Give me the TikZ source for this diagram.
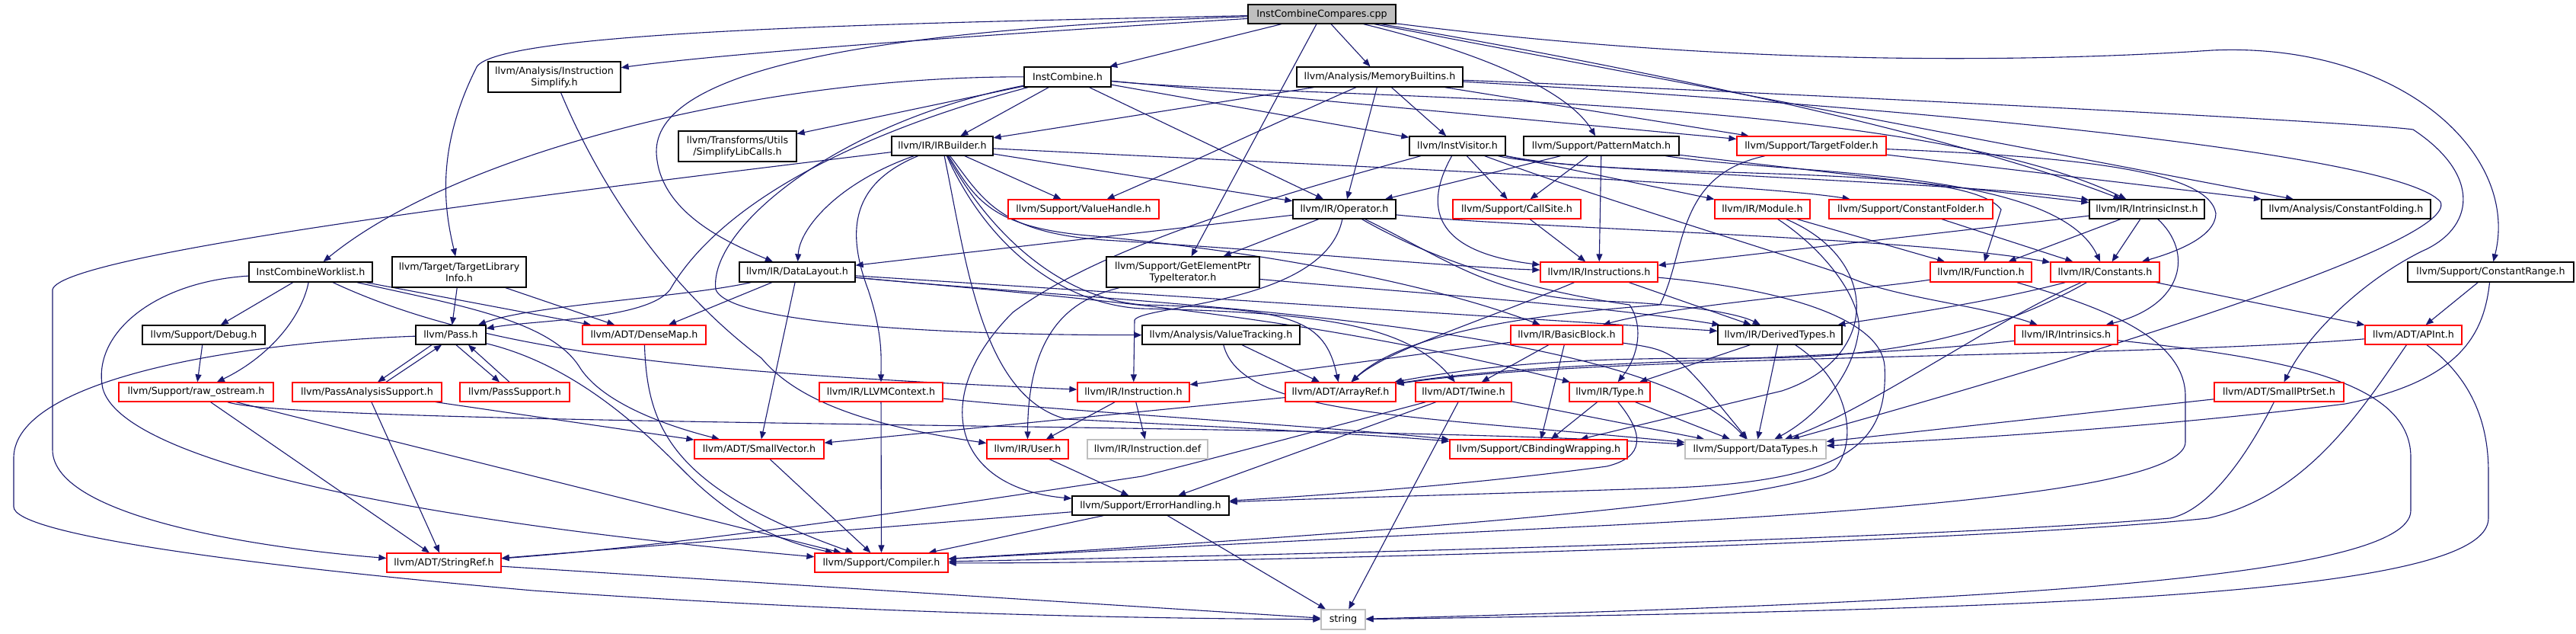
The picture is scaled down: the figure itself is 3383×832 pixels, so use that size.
\documentclass[tikz,border=0pt]{standalone}
\usepackage{fontspec}
\setmainfont{DejaVu Sans}
\usetikzlibrary{arrows.meta}
\definecolor{eblue}{RGB}{25,25,112}
\definecolor{nred}{RGB}{255,0,0}
\definecolor{ngray}{RGB}{191,191,191}
\newcommand\nodefont{\fontsize{12.7}{15}\selectfont}
\pgfdeclarelayer{bg}
\pgfsetlayers{bg,main}
\begin{document}
\begin{tikzpicture}[x=1pt,y=-1pt,
  nb/.style={draw=black,line width=1.3pt,rectangle,inner sep=0pt,font=\nodefont,align=center,fill=white},
  nr/.style={nb,draw=nred},
  ng/.style={nb,draw=ngray},
  mw/.style={minimum width=#1pt},
  mh/.style={minimum height=#1pt},
  ed/.style={draw=eblue,line width=1.1pt,-{Triangle[length=10pt,width=8pt]}}]
\useasboundingbox (0,0) rectangle (3383,832);
% ---------------- nodes ----------------
\node[nb,fill=ngray,mw=194,mh=25] (root) at (1736,18.5) {InstCombineCompares.cpp};
\node[nb,mw=114,mh=26] (IC) at (1402,101) {InstCombine.h};
\node[nb,mw=174,mh=40] (IS) at (728,101) {llvm/Analysis/Instruction\\Simplify.h};
\node[nb,mw=218,mh=26] (MB) at (1812,101) {llvm/Analysis/MemoryBuiltins.h};
\node[nb,mw=176,mh=40] (TLI) at (603,357) {llvm/Target/TargetLibrary\\Info.h};
\node[nb,mw=162,mh=26] (ICW) at (408,357) {InstCombineWorklist.h};
\node[nb,mw=155,mh=40] (SLC) at (968.5,192) {llvm/Transforms/Utils\\/SimplifyLibCalls.h};
\node[nb,mw=133,mh=25] (IRB) at (1237.5,191.5) {llvm/IR/IRBuilder.h};
\node[nb,mw=126,mh=25] (IV) at (1914,191.5) {llvm/InstVisitor.h};
\node[nb,mw=204,mh=25] (PM) at (2103,191.5) {llvm/Support/PatternMatch.h};
\node[nr,mw=196,mh=25] (TF) at (2379,191.5) {llvm/Support/TargetFolder.h};
\node[nr,mw=198,mh=25] (VH) at (1423,274.5) {llvm/Support/ValueHandle.h};
\node[nb,mw=135,mh=25] (OP) at (1765.5,274.5) {llvm/IR/Operator.h};
\node[nr,mw=168,mh=25] (CS) at (1992,274.5) {llvm/Support/CallSite.h};
\node[nr,mw=125,mh=25] (MOD) at (2314.5,274.5) {llvm/IR/Module.h};
\node[nr,mw=215,mh=25] (CF) at (2509.5,274.5) {llvm/Support/ConstantFolder.h};
\node[nb,mw=151,mh=25] (II) at (2819.5,274.5) {llvm/IR/IntrinsicInst.h};
\node[nb,mw=222,mh=25] (CFo) at (3081,274.5) {llvm/Analysis/ConstantFolding.h};
\node[nb,mw=152,mh=26] (DL) at (1047,357) {llvm/IR/DataLayout.h};
\node[nb,mw=201,mh=40] (GEP) at (1553.5,357) {llvm/Support/GetElementPtr\\TypeIterator.h};
\node[nr,mw=154,mh=26] (INS) at (2100,357) {llvm/IR/Instructions.h};
\node[nr,mw=133,mh=26] (FN) at (2601.5,357) {llvm/IR/Function.h};
\node[nr,mw=143,mh=26] (CON) at (2764.5,357) {llvm/IR/Constants.h};
\node[nb,mw=218,mh=26] (CR) at (3271,357) {llvm/Support/ConstantRange.h};
\node[nb,mw=161,mh=25] (DBG) at (267.5,439.5) {llvm/Support/Debug.h};
\node[nb,mw=92,mh=25] (PASS) at (592,439.5) {llvm/Pass.h};
\node[nr,mw=162,mh=25] (DM) at (846,439.5) {llvm/ADT/DenseMap.h};
\node[nb,mw=207,mh=25] (VT) at (1603.5,439.5) {llvm/Analysis/ValueTracking.h};
\node[nr,mw=147,mh=25] (BB) at (2057.5,439.5) {llvm/IR/BasicBlock.h};
\node[nb,mw=163,mh=25] (DT) at (2337.5,439.5) {llvm/IR/DerivedTypes.h};
\node[nr,mw=135,mh=25] (INTR) at (2713.5,439.5) {llvm/IR/Intrinsics.h};
\node[nr,mw=127,mh=25] (APInt) at (3169.5,439.5) {llvm/ADT/APInt.h};
\node[nr,mw=203,mh=25] (RO) at (257.5,514.5) {llvm/Support/raw\_ostream.h};
\node[nr,mw=196,mh=25] (PAS) at (482,514.5) {llvm/PassAnalysisSupport.h};
\node[nr,mw=144,mh=25] (PS) at (676,514.5) {llvm/PassSupport.h};
\node[nr,mw=162,mh=25] (CTX) at (1157,514.5) {llvm/IR/LLVMContext.h};
\node[nr,mw=147,mh=25] (INST) at (1488.5,514.5) {llvm/IR/Instruction.h};
\node[nr,mw=145,mh=25] (AR) at (1760.5,514.5) {llvm/ADT/ArrayRef.h};
\node[nr,mw=126,mh=25] (TW) at (1922,514.5) {llvm/ADT/Twine.h};
\node[nr,mw=106,mh=25] (TY) at (2114,514.5) {llvm/IR/Type.h};
\node[nr,mw=170,mh=25] (SPS) at (2993,514.5) {llvm/ADT/SmallPtrSet.h};
\node[nr,mw=170,mh=25] (SV) at (997,589.5) {llvm/ADT/SmallVector.h};
\node[nr,mw=107,mh=25] (USR) at (1349.5,589.5) {llvm/IR/User.h};
\node[ng,mw=158,mh=25] (IDEF) at (1507,589.5) {llvm/IR/Instruction.def};
\node[nr,mw=233,mh=25] (CBW) at (2020.5,589.5) {llvm/Support/CBindingWrapping.h};
\node[ng,mw=185,mh=25] (DTY) at (2305.5,589.5) {llvm/Support/DataTypes.h};
\node[nb,mw=206,mh=25] (EH) at (1511,663.5) {llvm/Support/ErrorHandling.h};
\node[nr,mw=175,mh=25] (CMP) at (1157.5,738.5) {llvm/Support/Compiler.h};
\node[nr,mw=150,mh=25] (SR) at (583,738.5) {llvm/ADT/StringRef.h};
\node[ng,mw=58,mh=26] (STR) at (1764,813) {string};
% ---------------- edges ----------------
\begin{pgfonlayer}{bg}
\fill[white] (0,0) rectangle (3383,832);
% root
\draw[ed] (root) -- (IC);
\draw[ed] (root) .. controls (1300,45) and (950,70) .. (IS);
\draw[ed] (root) .. controls (1200,30) and (640,40) .. (625,90) .. controls (570,200) and (585,280) .. (TLI);
\draw[ed] (root) -- (MB);
\draw[ed] (root) .. controls (1950,70) and (2060,120) .. (PM);
\draw[ed] (root) -- (GEP);
\draw[ed] (root) .. controls (1100,40) and (860,100) .. (862,200) .. controls (865,280) and (960,320) .. (DL);
\draw[ed] (root) .. controls (2100,80) and (2550,170) .. (II);
\draw[ed] (root) -- (CFo);
\draw[ed] (root) .. controls (2300,90) and (2700,80) .. (2905,66) .. controls (3150,55) and (3310,200) .. (CR);
% InstCombine.h
\draw[ed] (IC) .. controls (1000,100) and (600,200) .. (ICW);
\draw[ed] (IC) -- (SLC);
\draw[ed] (IC) -- (IRB);
\draw[ed] (IC) .. controls (1100,160) and (930,300) .. (940,380) .. controls (960,430) and (1300,440) .. (VT);
\draw[ed] (IC) .. controls (1700,130) and (2500,120) .. (II);
\draw[ed] (IC) -- (OP);
\draw[ed] (IC) -- (IV);
\draw[ed] (IC) .. controls (1140,170) and (950,260) .. (880,380) .. controls (850,420) and (700,420) .. (PASS);
\draw[ed] (IC) -- (TF);
% InstructionSimplify
\draw[ed] (IS) .. controls (790,250) and (880,380) .. (1000,470) .. controls (1050,530) and (1150,560) .. (USR);
% MemoryBuiltins
\draw[ed] (MB) -- (IV);
\draw[ed] (MB) -- (OP);
\draw[ed] (MB) -- (IRB);
\draw[ed] (MB) .. controls (1700,150) and (1550,220) .. (VH);
\draw[ed] (MB) -- (TF);
\draw[ed] (MB) .. controls (2300,120) and (3100,160) .. (3169,170) .. controls (3260,230) and (3250,300) .. (3180,330) .. controls (3100,370) and (3030,440) .. (SPS);
\draw[ed] (MB) .. controls (2500,140) and (3150,200) .. (3205,265) .. controls (3230,320) and (2700,480) .. (DTY);
% TargetLibraryInfo
\draw[ed] (TLI) -- (PASS);
\draw[ed] (TLI) -- (DM);
% InstCombineWorklist
\draw[ed] (ICW) -- (DBG);
\draw[ed] (ICW) .. controls (395,420) and (350,470) .. (RO);
\draw[ed] (ICW) .. controls (200,370) and (120,440) .. (135,510) .. controls (160,600) and (500,680) .. (CMP);
\draw[ed] (ICW) -- (DM);
\draw[ed] (ICW) .. controls (600,400) and (720,420) .. (760,480) .. controls (790,530) and (880,560) .. (SV);
\draw[ed] (ICW) .. controls (650,470) and (950,490) .. (INST);
% IRBuilder
\draw[ed] (IRB) -- (VH);
\draw[ed] (IRB) .. controls (1100,240) and (1050,300) .. (DL);
\draw[ed] (IRB) -- (OP);
\draw[ed] (IRB) .. controls (1700,215) and (2300,240) .. (CF);
\draw[ed] (IRB) .. controls (800,245) and (80,330) .. (69,380) -- (69,590) .. controls (69,680) and (350,720) .. (SR);
\draw[ed] (IRB) .. controls (1120,240) and (1110,300) .. (1140,380) .. controls (1160,440) and (1157,470) .. (CTX);
\draw[ed] (IRB) .. controls (1290,290) and (1380,390) .. (1500,400) .. controls (1700,405) and (1740,420) .. (AR);
\draw[ed] (IRB) .. controls (1300,330) and (1400,400) .. (1500,405) .. controls (1750,410) and (1850,430) .. (TW);
\draw[ed] (IRB) .. controls (1280,260) and (1300,300) .. (1440,310) .. controls (1700,335) and (1900,380) .. (BB);
\draw[ed] (IRB) .. controls (1270,350) and (1290,520) .. (1400,550) .. controls (1600,560) and (1800,570) .. (CBW);
\draw[ed] (IRB) .. controls (1290,260) and (1310,305) .. (1450,315) .. controls (1700,330) and (1900,350) .. (INS);
% TargetFolder
\draw[ed] (TF) .. controls (2200,230) and (2215,330) .. (2180,400) .. controls (2050,410) and (1850,430) .. (AR);
\draw[ed] (TF) -- (CFo);
\draw[ed] (TF) .. controls (2700,205) and (2900,220) .. (2910,280) .. controls (2910,310) and (2860,330) .. (CON);
% InstVisitor
\draw[ed] (IV) -- (CS);
\draw[ed] (IV) .. controls (1870,270) and (1880,330) .. (INS);
\draw[ed] (IV) -- (MOD);
\draw[ed] (IV) .. controls (2050,225) and (2600,240) .. (II);
\draw[ed] (IV) .. controls (2150,240) and (2580,210) .. (2628,275) -- (FN);
\draw[ed] (IV) .. controls (2100,260) and (2300,320) .. (2420,360) .. controls (2480,390) and (2600,400) .. (INTR);
\draw[ed] (IV) .. controls (1700,250) and (1450,320) .. (1330,410) .. controls (1220,520) and (1250,640) .. (EH);
% PatternMatch
\draw[ed] (PM) -- (OP);
\draw[ed] (PM) -- (CS);
\draw[ed] (PM) -- (INS);
\draw[ed] (PM) -- (II);
\draw[ed] (PM) .. controls (2350,230) and (2700,220) .. (CON);
% Operator
\draw[ed] (OP) .. controls (2000,300) and (2500,310) .. (CON);
\draw[ed] (OP) -- (DL);
\draw[ed] (OP) -- (GEP);
\draw[ed] (OP) .. controls (1900,340) and (1960,390) .. (2100,395) .. controls (2200,398) and (2280,410) .. (DT);
\draw[ed] (OP) .. controls (1740,400) and (1500,400) .. (1490,420) -- (INST);
\draw[ed] (OP) .. controls (1880,340) and (2000,380) .. (2140,400) .. controls (2160,430) and (2150,470) .. (TY);
% CallSite, Module, ConstantFolder, IntrinsicInst
\draw[ed] (CS) -- (INS);
\draw[ed] (MOD) -- (FN);
\draw[ed] (MOD) .. controls (2400,330) and (2450,400) .. (2440,440) .. controls (2430,500) and (2380,550) .. (DTY);
\draw[ed] (MOD) .. controls (2470,340) and (2470,470) .. (2340,513) -- (CBW);
\draw[ed] (CF) -- (CON);
\draw[ed] (II) -- (FN);
\draw[ed] (II) -- (CON);
\draw[ed] (II) -- (INS);
\draw[ed] (II) .. controls (2880,330) and (2870,400) .. (INTR);
% DataLayout
\draw[ed] (DL) .. controls (900,390) and (700,400) .. (PASS);
\draw[ed] (DL) -- (DM);
\draw[ed] (DL) -- (SV);
\draw[ed] (DL) -- (DT);
\draw[ed] (DL) .. controls (1400,390) and (1700,410) .. (TY);
\draw[ed] (DL) .. controls (1500,400) and (2150,420) .. (DTY);
% GetElementPtrTypeIterator
\draw[ed] (GEP) .. controls (1800,380) and (2100,400) .. (DT);
\draw[ed] (GEP) .. controls (1420,390) and (1350,420) .. (USR);
% Instructions
\draw[ed] (INS) .. controls (1950,420) and (1820,460) .. (AR);
\draw[ed] (INS) -- (DT);
\draw[ed] (INS) .. controls (2350,380) and (2470,420) .. (2475,480) .. controls (2480,580) and (2430,630) .. (2200,640) .. controls (1900,650) and (1700,655) .. (EH);
% Function
\draw[ed] (FN) .. controls (2450,380) and (2200,400) .. (BB);
\draw[ed] (FN) .. controls (2750,400) and (2870,440) .. (2870,520) -- (2870,580) .. controls (2870,640) and (2500,670) .. (2100,690) .. controls (1700,710) and (1400,725) .. (CMP);
% Constants
\draw[ed] (CON) -- (APInt);
\draw[ed] (CON) .. controls (2600,450) and (2450,470) .. (2300,470) .. controls (2150,470) and (2000,470) .. (AR);
\draw[ed] (CON) .. controls (2600,400) and (2450,420) .. (DT);
\draw[ed] (CON) .. controls (2620,420) and (2450,540) .. (DTY);
% ConstantRange
\draw[ed] (CR) -- (APInt);
\draw[ed] (CR) .. controls (3262,440) and (3230,500) .. (3080,530) .. controls (2800,565) and (2500,580) .. (DTY);
% Debug, Pass family
\draw[ed] (DBG) -- (RO);
\draw[ed] ([xshift=-25pt]PASS.south) -- ([xshift=14pt]PAS.north);
\draw[ed] ([xshift=25pt]PAS.north) -- ([xshift=-12pt]PASS.south);
\draw[ed] ([xshift=7pt]PASS.south) -- ([xshift=-20pt]PS.north);
\draw[ed] ([xshift=-7pt]PS.north) -- ([xshift=23pt]PASS.south);
\draw[ed] (PASS) .. controls (300,450) and (20,500) .. (18,600) -- (18,665) .. controls (18,700) and (300,740) .. (700,775) .. controls (1200,810) and (1600,812) .. (STR);
\draw[ed] (PASS) .. controls (760,480) and (850,570) .. (900,620) .. controls (960,680) and (1020,710) .. (CMP);
\draw[ed] (PAS) -- (SR);
\draw[ed] (PAS) -- (SV);
% raw_ostream
\draw[ed] (RO) -- (SR);
\draw[ed] (RO) -- (CMP);
\draw[ed] (RO) .. controls (400,560) and (1800,555) .. (DTY);
% DenseMap
\draw[ed] (DM) .. controls (850,560) and (880,640) .. (CMP);
% ValueTracking
\draw[ed] (VT) -- (AR);
\draw[ed] (VT) .. controls (1630,545) and (1850,545) .. (DTY);
% BasicBlock
\draw[ed] (BB) -- (INST);
\draw[ed] (BB) -- (TW);
\draw[ed] (BB) -- (CBW);
\draw[ed] (BB) .. controls (2200,460) .. (DTY);
% DerivedTypes
\draw[ed] (DT) -- (TY);
\draw[ed] (DT) -- (DTY);
\draw[ed] (DT) .. controls (2430,500) and (2440,580) .. (2410,615) .. controls (2350,660) and (1800,700) .. (CMP);
% Intrinsics
\draw[ed] (INTR) .. controls (2400,475) and (2050,470) .. (AR);
\draw[ed] (INTR) .. controls (3000,470) and (3166,500) .. (3166,600) -- (3166,670) .. controls (3166,760) and (2600,790) .. (STR);
% APInt
\draw[ed] (APInt) .. controls (2800,470) and (2100,465) .. (AR);
\draw[ed] (APInt) .. controls (3100,540) and (3030,650) .. (2900,680) .. controls (2600,712) and (1600,740) .. (CMP);
\draw[ed] (APInt) .. controls (3250,500) and (3268,560) .. (3268,620) -- (3268,680) .. controls (3268,780) and (2700,800) .. (STR);
% LLVMContext, Instruction, ArrayRef
\draw[ed] (CTX) -- (CMP);
\draw[ed] (CTX) .. controls (1400,540) and (1750,560) .. (CBW);
\draw[ed] (INST) -- (USR);
\draw[ed] (INST) -- (IDEF);
\draw[ed] (AR) -- (SV);
% Twine
\draw[ed] (TW) .. controls (1750,560) and (1600,600) .. (1500,625) .. controls (1200,670) and (900,715) .. (SR);
\draw[ed] (TW) -- (EH);
\draw[ed] (TW) -- (STR);
\draw[ed] (TW) -- (DTY);
% Type
\draw[ed] (TY) -- (CBW);
\draw[ed] (TY) -- (DTY);
\draw[ed] (TY) .. controls (2160,570) and (2160,600) .. (2110,612) .. controls (1900,640) and (1700,652) .. (EH);
% SmallPtrSet
\draw[ed] (SPS) -- (DTY);
\draw[ed] (SPS) .. controls (2950,600) and (2900,670) .. (2850,680) .. controls (2500,710) and (1600,730) .. (CMP);
% lower
\draw[ed] (SV) -- (CMP);
\draw[ed] (USR) -- (EH);
\draw[ed] (EH) -- (CMP);
\draw[ed] (EH) -- (SR);
\draw[ed] (EH) -- (STR);
\draw[ed] (SR) -- (STR);
\end{pgfonlayer}
\end{tikzpicture}
\end{document}
